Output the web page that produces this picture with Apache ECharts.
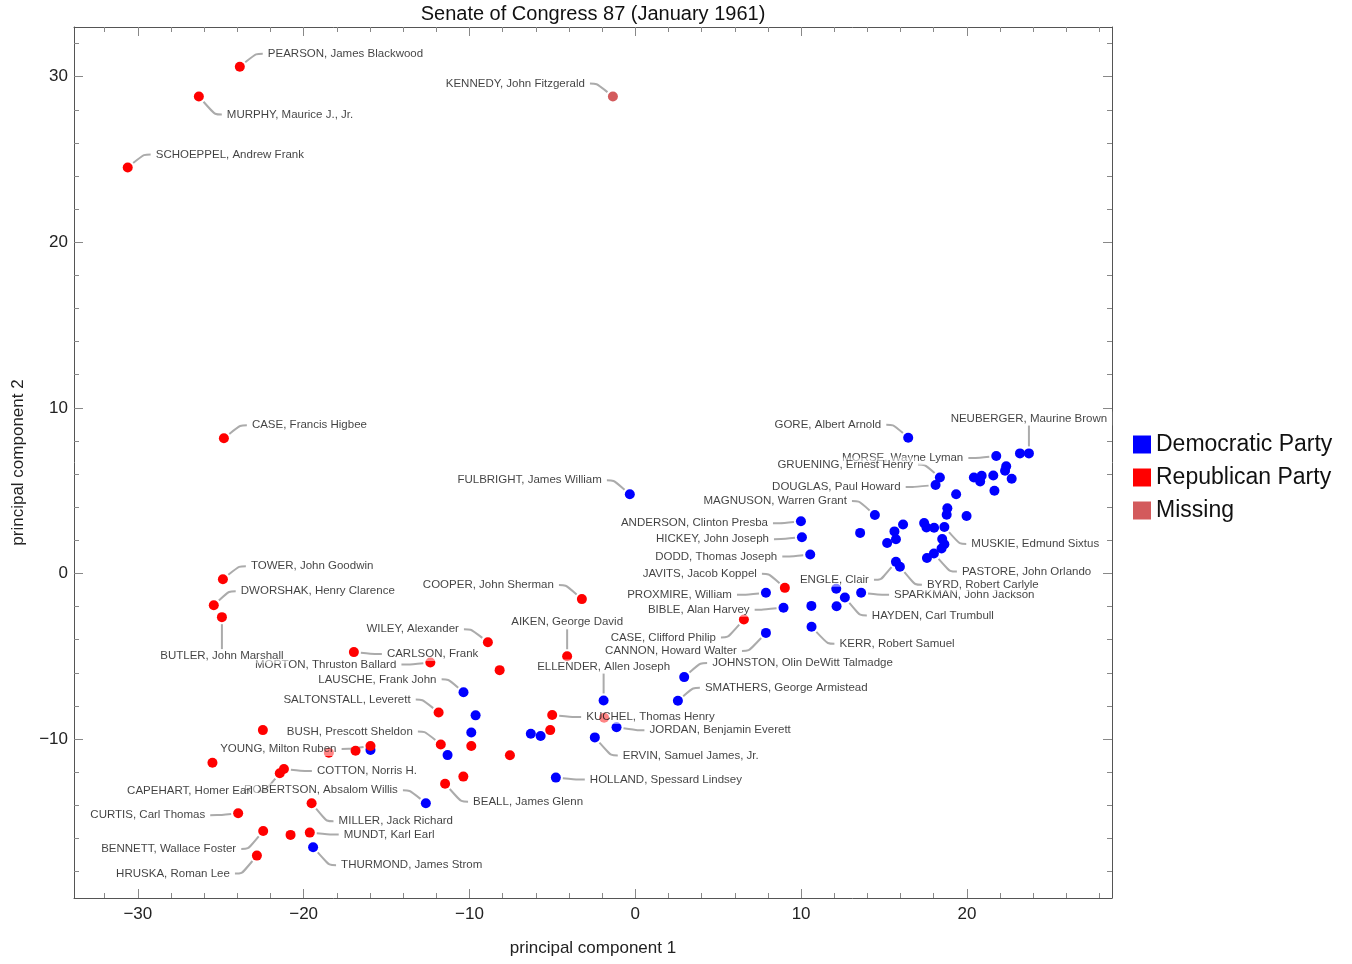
<!DOCTYPE html>
<html><head><meta charset="utf-8">
<script src="https://cdn.jsdelivr.net/npm/echarts@6/dist/echarts.min.js"></script>
<style>html,body{margin:0;padding:0;background:#fff}#chart{width:1352px;height:964px}</style>
</head><body><div id="chart"></div>
<script>
const TITLE = 'Senate of Congress 87 (January 1961)';
const X_NAME = 'principal component 1';
const Y_NAME = 'principal component 2';
const X_TICKS = [-30, -20, -10, 0, 10, 20];
const Y_TICKS = [-10, 0, 10, 20, 30];
const X_MINOR = [-32,-30,-28,-26,-24,-22,-20,-18,-16,-14,-12,-10,-8,-6,-4,-2,0,2,4,6,8,10,12,14,16,18,20,22,24,26,28];
const Y_MINOR = [-18,-16,-14,-12,-10,-8,-6,-4,-2,0,2,4,6,8,10,12,14,16,18,20,22,24,26,28,30,32];
const X_RANGE = [-33.85, 28.75];
const Y_RANGE = [-19.6, 33.0];
const PARTIES = ['Democratic Party', 'Republican Party', 'Missing'];

const DEM_NAME = ['FULBRIGHT, James William','LAUSCHE, Frank John','','','','','','HOLLAND, Spessard Lindsey','ROBERTSON, Absalom Willis','THURMOND, James Strom',
 '','ELLENDER, Allen Joseph','JORDAN, Benjamin Everett','ERVIN, Samuel James, Jr.','JOHNSTON, Olin DeWitt Talmadge','SMATHERS, George Armistead','CANNON, Howard Walter','KERR, Robert Samuel','PROXMIRE, William','BIBLE, Alan Harvey',
 '','','HAYDEN, Carl Trumbull','','SPARKMAN, John Jackson','GORE, Albert Arnold','NEUBERGER, Maurine Brown','','MORSE, Wayne Lyman','',
 '','','','','','','','GRUENING, Ernest Henry','DOUGLAS, Paul Howard','',
 '','','','MAGNUSON, Warren Grant','ANDERSON, Clinton Presba','HICKEY, John Joseph','DODD, Thomas Joseph','','','',
 '','','','','','MUSKIE, Edmund Sixtus','','','','PASTORE, John Orlando',
 '','ENGLE, Clair','BYRD, Robert Carlyle'];
const DEM_X = [-0.33,-10.36,-9.63,-9.89,-11.32,-6.30,-5.71,-4.79,-12.63,-19.43,
 -15.97,-1.91,-1.13,-2.44,2.95,2.57,7.88,10.63,7.88,8.94,
 10.62,12.12,12.64,12.14,13.62,16.46,23.74,23.20,21.77,22.37,
 22.30,22.70,21.59,20.42,20.89,20.80,21.66,18.37,18.11,19.35,
 18.82,18.78,19.98,14.45,9.99,10.05,10.55,13.56,16.15,15.63,
 15.72,15.19,17.42,17.56,18.02,18.64,18.51,18.64,18.47,18.01,
 17.59,15.72,15.96];
const DEM_Y = [4.78,-7.18,-8.57,-9.60,-10.97,-9.68,-9.82,-12.33,-13.88,-16.53,
 -10.66,-7.67,-9.29,-9.90,-6.26,-7.69,-3.59,-3.22,-1.17,-2.07,
 -1.96,-0.92,-1.45,-1.98,-1.17,8.20,7.25,7.25,7.09,6.47,
 6.20,5.72,5.92,5.79,5.90,5.55,4.99,5.79,5.34,4.78,
 3.94,3.54,3.47,3.53,3.15,2.19,1.14,2.45,2.96,2.54,
 2.07,1.84,3.04,2.77,2.76,2.81,2.08,1.76,1.51,1.20,
 0.93,0.70,0.40];

const REP_NAME = ['PEARSON, James Blackwood','MURPHY, Maurice J., Jr.','SCHOEPPEL, Andrew Frank','CASE, Francis Higbee','TOWER, John Goodwin','DWORSHAK, Henry Clarence','BUTLER, John Marshall','COOPER, John Sherman','WILEY, Alexander','CARLSON, Frank',
 'MORTON, Thruston Ballard','','SALTONSTALL, Leverett','','BUSH, Prescott Sheldon','','','','YOUNG, Milton Ruben','',
 '','COTTON, Norris H.','CAPEHART, Homer Earl','','BEALL, James Glenn','MILLER, Jack Richard','CURTIS, Carl Thomas','BENNETT, Wallace Foster','','MUNDT, Karl Earl',
 'HRUSKA, Roman Lee','KUCHEL, Thomas Henry','','','AIKEN, George David','CASE, Clifford Philip','JAVITS, Jacob Koppel'];
const REP_X = [-23.85,-26.32,-30.61,-24.81,-24.87,-25.42,-24.93,-3.22,-8.89,-16.97,
 -12.36,-8.18,-11.86,-22.46,-11.73,-9.89,-7.56,-16.87,-15.97,-18.48,
 -25.50,-21.19,-21.44,-10.37,-11.47,-19.52,-23.95,-22.44,-20.79,-19.63,
 -22.82,-5.01,-1.88,-5.13,-4.11,6.55,9.02];
const REP_Y = [30.60,28.80,24.52,8.16,-0.35,-1.92,-2.64,-1.55,-4.15,-4.75,
 -5.38,-5.84,-8.40,-9.46,-10.33,-10.42,-10.98,-10.71,-10.42,-10.83,
 -11.43,-11.81,-12.07,-12.27,-12.70,-13.88,-14.48,-15.55,-15.79,-15.65,
 -17.04,-8.55,-8.72,-9.46,-5.00,-2.78,-0.87];

const MIS_NAME = ['KENNEDY, John Fitzgerald'];
const MIS_X = [-1.35];
const MIS_Y = [28.80];

// label placement (pixel offsets of the text edge from the point), in drawing order
const LABEL_PLACE = [
 ['PEARSON, James Blackwood', 28, -13, 'left'],
 ['MURPHY, Maurice J., Jr.', 28, 18, 'left'],
 ['SCHOEPPEL, Andrew Frank', 28, -13, 'left'],
 ['KENNEDY, John Fitzgerald', -28, -13, 'right'],
 ['CASE, Francis Higbee', 28, -13, 'left'],
 ['TOWER, John Goodwin', 28, -13, 'left'],
 ['DWORSHAK, Henry Clarence', 27, -14, 'left'],
 ['FULBRIGHT, James William', -28, -14, 'right'],
 ['COOPER, John Sherman', -28, -14, 'right'],
 ['WILEY, Alexander', -29, -13, 'right'],
 ['AIKEN, George David', 0, -34, 'center'],
 ['MORTON, Thruston Ballard', -34, 2, 'right'],
 ['CARLSON, Frank', 33, 2, 'left'],
 ['BUTLER, John Marshall', 0, 39, 'center'],
 ['LAUSCHE, Frank John', -27, -13, 'right'],
 ['SALTONSTALL, Leverett', -28, -13, 'right'],
 ['BUSH, Prescott Sheldon', -28, -13, 'right'],
 ['YOUNG, Milton Ruben', -34, 3, 'right'],
 ['COTTON, Norris H.', 33, 2, 'left'],
 ['ROBERTSON, Absalom Willis', -28, -13, 'right'],
 ['CAPEHART, Homer Earl', -27, 18, 'right'],
 ['BEALL, James Glenn', 28, 18, 'left'],
 ['MILLER, Jack Richard', 27, 18, 'left'],
 ['CURTIS, Carl Thomas', -33, 2, 'right'],
 ['MUNDT, Karl Earl', 34, 2, 'left'],
 ['BENNETT, Wallace Foster', -27, 18, 'right'],
 ['HRUSKA, Roman Lee', -27, 18, 'right'],
 ['THURMOND, James Strom', 28, 18, 'left'],
 ['ELLENDER, Allen Joseph', 0, -34, 'center'],
 ['KUCHEL, Thomas Henry', 34, 2, 'left'],
 ['JORDAN, Benjamin Everett', 33, 3, 'left'],
 ['ERVIN, Samuel James, Jr.', 28, 18, 'left'],
 ['HOLLAND, Spessard Lindsey', 34, 2, 'left'],
 ['JOHNSTON, Olin DeWitt Talmadge', 28, -14, 'left'],
 ['SMATHERS, George Armistead', 27, -13, 'left'],
 ['BIBLE, Alan Harvey', -34, 2, 'right'],
 ['CASE, Clifford Philip', -28, 18, 'right'],
 ['CANNON, Howard Walter', -29, 18, 'right'],
 ['PROXMIRE, William', -34, 2, 'right'],
 ['JAVITS, Jacob Koppel', -28, -14, 'right'],
 ['KERR, Robert Samuel', 28, 17, 'left'],
 ['HAYDEN, Carl Trumbull', 27, 18, 'left'],
 ['SPARKMAN, John Jackson', 33, 2, 'left'],
 ['ENGLE, Clair', -27, 18, 'right'],
 ['BYRD, Robert Carlyle', 27, 18, 'left'],
 ['PASTORE, John Orlando', 28, 18, 'left'],
 ['MUSKIE, Edmund Sixtus', 27, 17, 'left'],
 ['MAGNUSON, Warren Grant', -28, -14, 'right'],
 ['DODD, Thomas Joseph', -33, 2, 'right'],
 ['HICKEY, John Joseph', -33, 2, 'right'],
 ['ANDERSON, Clinton Presba', -33, 2, 'right'],
 ['DOUGLAS, Paul Howard', -35, 2, 'right'],
 ['MORSE, Wayne Lyman', -33, 2, 'right'],
 ['GRUENING, Ernest Henry', -27, -13, 'right'],
 ['GORE, Albert Arnold', -27, -13, 'right'],
 ['NEUBERGER, Maurine Brown', 0, -35, 'center']
];

const COLORS = ['#0000ff', '#ff0000', '#d35a5c'];
const FONT = '"Liberation Sans", Arial, sans-serif';
const PAD = 5;

function pts(xs, ys, names) { return xs.map((x, i) => ({ value: [x, ys[i]], name: names[i] })); }
const dem = pts(DEM_X, DEM_Y, DEM_NAME);
const rep = pts(REP_X, REP_Y, REP_NAME);
const mis = pts(MIS_X, MIS_Y, MIS_NAME);
const all = dem.concat(rep, mis);
const labelData = LABEL_PLACE.map(p => all.find(d => d.name === p[0]));

function fmt(v) { return v < 0 ? '\u2212' + (-v) : String(v); }

function xAxisDef(pos, major) {
  return {
    type: 'value', position: pos, min: X_RANGE[0], max: X_RANGE[1],
    axisLine: { show: major, onZero: false, lineStyle: { color: '#555', width: 1 } },
    axisTick: { show: true, inside: true, length: major ? 9 : 5, customValues: major ? X_TICKS : X_MINOR, lineStyle: { color: '#888', width: 1 } },
    axisLabel: (pos === 'bottom' && major) ? { show: true, customValues: X_TICKS, formatter: fmt, fontSize: 17, fontFamily: FONT, color: '#222', margin: 8 } : { show: false },
    splitLine: { show: false },
    name: (pos === 'bottom' && major) ? X_NAME : '',
    nameLocation: 'middle', nameGap: 42,
    nameTextStyle: { fontSize: 17, fontFamily: FONT, color: '#222' }
  };
}
function yAxisDef(pos, major) {
  return {
    type: 'value', position: pos, min: Y_RANGE[0], max: Y_RANGE[1],
    axisLine: { show: major, onZero: false, lineStyle: { color: '#555', width: 1 } },
    axisTick: { show: true, inside: true, length: major ? 9 : 5, customValues: major ? Y_TICKS : Y_MINOR, lineStyle: { color: '#888', width: 1 } },
    axisLabel: (pos === 'left' && major) ? { show: true, customValues: Y_TICKS, formatter: fmt, fontSize: 17, fontFamily: FONT, color: '#222', margin: 6 } : { show: false },
    splitLine: { show: false },
    name: (pos === 'left' && major) ? Y_NAME : '',
    nameLocation: 'middle', nameGap: 47,
    nameTextStyle: { fontSize: 17, fontFamily: FONT, color: '#222' }
  };
}

function pointSeries(name, data, color) {
  return { type: 'scatter', name: name, data: data, symbolSize: 10, itemStyle: { color: color, opacity: 1 },
    xAxisIndex: 0, yAxisIndex: 0, emphasis: { disabled: true }, animation: false };
}

const chart = echarts.init(document.getElementById('chart'));
chart.setOption({
  backgroundColor: '#fff',
  animation: false,
  textStyle: { fontFamily: FONT },
  grid: { left: 74, top: 27, width: 1038, height: 871, containLabel: false },
  graphic: [{ type: 'text', x: 593, y: 14, style: { text: TITLE, font: '20px ' + FONT, fill: '#111', textAlign: 'center', textVerticalAlign: 'middle' } }],
  legend: {
    data: PARTIES, orient: 'vertical', left: 1128, top: 428, icon: 'rect',
    itemWidth: 18, itemHeight: 18, itemGap: 10,
    textStyle: { fontSize: 23, lineHeight: 23, fontFamily: FONT, color: '#111' }
  },
  xAxis: [xAxisDef('bottom', true), xAxisDef('bottom', false), xAxisDef('top', true), xAxisDef('top', false)],
  yAxis: [yAxisDef('left', true), yAxisDef('left', false), yAxisDef('right', true), yAxisDef('right', false)],
  series: [
    pointSeries(PARTIES[0], dem, COLORS[0]),
    pointSeries(PARTIES[1], rep, COLORS[1]),
    pointSeries(PARTIES[2], mis, COLORS[2]),
    {
      type: 'scatter', name: 'labels', silent: true, data: labelData, symbolSize: 14,
      itemStyle: { color: 'rgba(0,0,0,0)' }, emphasis: { disabled: true }, animation: false,
      label: { show: true, formatter: p => p.name, fontSize: 11.5, fontFamily: FONT, color: '#111',
        backgroundColor: 'rgba(255,255,255,0.65)', padding: [1, PAD] },
      labelLine: { show: true, length2: 7, smooth: 0.3, lineStyle: { color: '#ababab', width: 2 } },
      labelLayout: function (p) {
        const pl = LABEL_PLACE[p.dataIndex];
        const cx = p.rect.x + p.rect.width / 2, cy = p.rect.y + p.rect.height / 2;
        let x = cx + pl[1];
        if (pl[3] === 'left') x -= PAD; else if (pl[3] === 'right') x += PAD;
        return { x: x, y: cy + pl[2], align: pl[3], verticalAlign: 'middle' };
      }
    }
  ]
});
</script></body></html>
